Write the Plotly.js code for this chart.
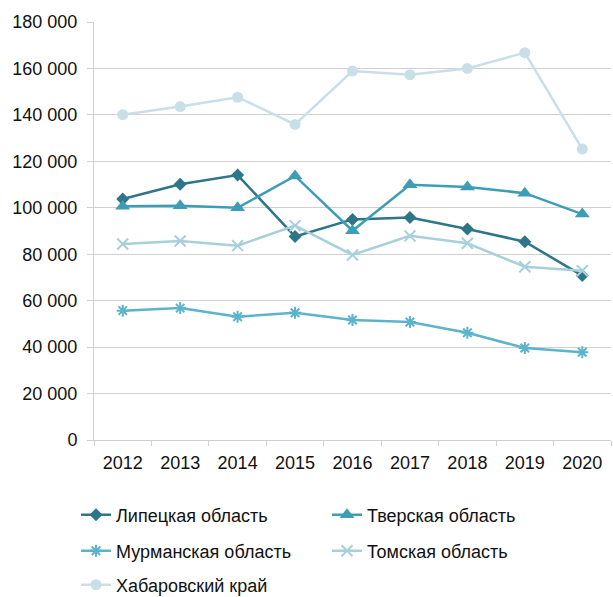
<!DOCTYPE html>
<html>
<head>
<meta charset="utf-8">
<script src="https://cdn.plot.ly/plotly-3.0.1.min.js"></script>
<style>html,body{margin:0;padding:0;background:#fff;}#chart{width:613px;height:597px;}</style>
</head>
<body>
<div id="chart"></div>
<script>
var years = ['2012','2013','2014','2015','2016','2017','2018','2019','2020'];
var lipetsk = [103800, 110100, 114100, 87600, 95000, 95800, 90900, 85400, 70800];
var tver = [100700, 100900, 100000, 113700, 90100, 109900, 108900, 106300, 97300];
var murmansk = [55700, 56800, 53100, 54800, 51700, 50800, 46200, 39600, 37800];
var tomsk = [84400, 85700, 83700, 92300, 79700, 87900, 84700, 74600, 72900];
var khabarovsk = [140100, 143600, 147600, 135900, 158900, 157300, 160000, 166800, 125300];
var yTicks = [0, 20000, 40000, 60000, 80000, 100000, 120000, 140000, 160000, 180000];
var yTickText = ['0', '20 000', '40 000', '60 000', '80 000', '100 000', '120 000', '140 000', '160 000', '180 000'];

var FONT = "'Liberation Sans', Arial, sans-serif";
function tr(name, y, color, symbol, size, legend, lineOnly) {
  var m = {symbol: symbol, size: size, color: color};
  if (lineOnly) m.line = {color: color, width: 2};
  return {x: years, y: y, name: name, type: 'scatter', mode: 'lines+markers',
    line: {color: color, width: 2.5}, marker: m, legend: legend};
}
var data = [
  tr('Липецкая область', lipetsk, '#2d7589', 'diamond', 10, 'legend'),
  tr('Тверская область', tver, '#3d9db5', 'triangle-up', 13, 'legend'),
  tr('Мурманская область', murmansk, '#5cb3cc', 'asterisk-open', 10, 'legend2', true),
  tr('Томская область', tomsk, '#a7cfdc', 'x-thin-open', 11, 'legend2', true),
  tr('Хабаровский край', khabarovsk, '#c9dfe7', 'circle', 11, 'legend3')
];
function leg(y) {
  return {orientation: 'h', xref: 'container', yref: 'container', x: 0.124, y: y,
    xanchor: 'left', yanchor: 'middle', entrywidth: 206, bgcolor: 'rgba(0,0,0,0)',
    font: {family: FONT, size: 18, color: '#111'}};
}
var layout = {
  width: 613, height: 597,
  margin: {l: 94, r: 2, t: 22, b: 157},
  paper_bgcolor: '#fff', plot_bgcolor: '#fff',
  font: {family: FONT, size: 18, color: '#111'},
  showlegend: true,
  xaxis: {type: 'category', range: [-0.5, 8.5], showgrid: false, zeroline: false,
    showline: true, linecolor: '#d0d0d0', linewidth: 1,
    ticks: 'outside', tickson: 'boundaries', ticklen: 5, tickcolor: '#d0d0d0',
    ticklabelstandoff: 6,
    tickfont: {family: FONT, size: 18, color: '#111'}},
  yaxis: {range: [0, 180000], tickvals: yTicks, ticktext: yTickText,
    showgrid: true, gridcolor: '#d0d0d0', gridwidth: 1, zeroline: false,
    showline: true, linecolor: '#d0d0d0', linewidth: 1,
    ticks: 'outside', ticklen: 6, tickcolor: '#d0d0d0', ticklabelstandoff: 6,
    tickfont: {family: FONT, size: 18, color: '#111'}, fixedrange: true},
  legend: leg(0.1374),
  legend2: leg(0.0771),
  legend3: leg(0.0201)
};
Plotly.newPlot('chart', data, layout, {displayModeBar: false, staticPlot: true});
</script>
</body>
</html>
